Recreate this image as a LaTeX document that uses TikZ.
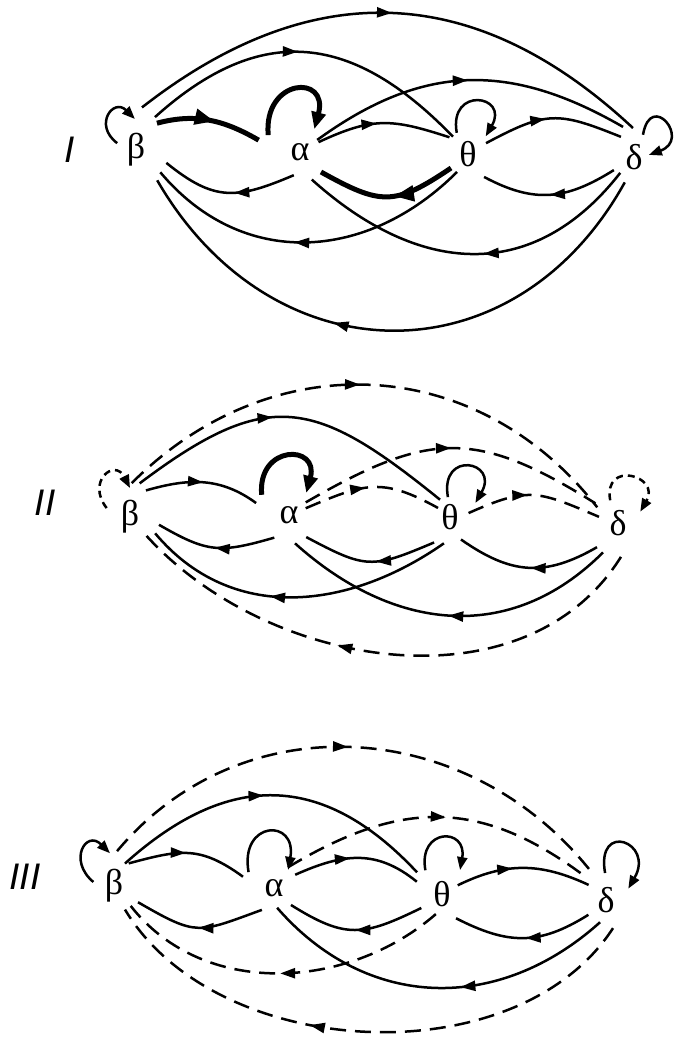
\documentclass[tikz,border=0pt]{standalone}
\usepackage{fontspec}
\setmainfont{Liberation Serif}
\setsansfont{Liberation Sans}
\usetikzlibrary{arrows.meta,decorations.markings}

\begin{document}
\begin{tikzpicture}[
    x=1pt, y=1pt,
    state/.style={inner sep=0pt, font=\fontsize{36}{36}\selectfont},
    tag/.style={inner sep=0pt, font=\sffamily\itshape\fontsize{37}{37}\selectfont},
    link/.style={line width=2.5pt},
    heavy/.style={line width=5pt},
    broken/.style={line width=2.5pt, dash pattern=on 16pt off 9pt},
    mid/.style={postaction={decorate, decoration={markings, mark=at position #1 with {\arrow{Triangle[length=15pt, width=10pt]}}}}},
    midbig/.style={postaction={decorate, decoration={markings, mark=at position #1 with {\arrow{Triangle[length=20pt, width=15pt]}}}}},
    tip/.style={-{Triangle[length=13pt, width=10pt]}},
    bigtip/.style={-{Triangle[length=17pt, width=14pt]}}
]
    \useasboundingbox (0,0) rectangle (681,-1042);

    % panel I
    \node [tag] (p1) at (70,-150) {I};
    \node [state] (b1) at (136,-150) {β};
    \node [state] (a1) at (300,-152) {α};
    \node [state] (t1) at (468,-154) {θ};
    \node [state] (d1) at (634,-157) {δ};

    \draw [link, mid=0.5] ([shift={(82:43)}]b1.center) to[out=38, in=137, looseness=1.12] ([shift={(92:29)}]d1.center);
    \draw [link, mid=0.47] ([shift={(60:38)}]b1.center) to[out=42, in=134, looseness=1.23] ([shift={(131:23)}]t1.center);
    \draw [link, mid=0.5] ([shift={(35:21)}]a1.center) to[out=36, in=150, looseness=1.09] ([shift={(110:32)}]d1.center);
    \draw [heavy, midbig=0.55] ([shift={(52:34)}]b1.center) to[out=15, in=150, looseness=1.0] ([shift={(164:43)}]a1.center);
    \draw [link, mid=0.45] ([shift={(28:21)}]a1.center) to[out=25, in=162, looseness=1.18] ([shift={(138:25)}]t1.center);
    \draw [link, mid=0.45] ([shift={(31:21)}]t1.center) to[out=28, in=158, looseness=1.3] ([shift={(123:24)}]d1.center);
    \draw [heavy, bigtip] ([shift={(152:36)}]a1.center) to[out=95, in=75, looseness=3.15] ([shift={(58:27)}]a1.center);
    \draw [link, tip] ([shift={(160:20)}]b1.center) to[out=143, in=135, looseness=2.6] ([shift={(92:31)}]b1.center);
    \draw [link, tip] ([shift={(118:24)}]t1.center) to[out=100, in=60, looseness=4.2] ([shift={(45:25)}]t1.center);
    \draw [link, tip] ([shift={(68:24)}]d1.center) to[out=80, in=20, looseness=5.5] ([shift={(8:15)}]d1.center);

    \draw [link, mid=0.45] ([shift={(255:24)}]a1.center) to[out=203, in=-39, looseness=1.24] ([shift={(-23:33)}]b1.center);
    \draw [heavy, midbig=0.45] ([shift={(219.5:22)}]t1.center) to[out=214, in=-29, looseness=1.35] ([shift={(-43.6:29)}]a1.center);
    \draw [link, mid=0.5] ([shift={(213:24)}]d1.center) to[out=212, in=-28, looseness=1.12] ([shift={(-55:28)}]t1.center);
    \draw [link, mid=0.54] ([shift={(238.6:21)}]t1.center) to[out=225, in=-50, looseness=1.1] ([shift={(-42.5:33)}]b1.center);
    \draw [link, mid=0.46] ([shift={(229:21)}]d1.center) to[out=232, in=-42, looseness=1.18] ([shift={(-66.8:30)}]a1.center);
    \draw [link, mid=0.6] ([shift={(250:27)}]d1.center) to[out=241, in=-60, looseness=1.25] ([shift={(-55:37)}]b1.center);

    % panel II
    \node [tag] (p2) at (45,-503) {II};
    \node [state] (b2) at (130,-517) {β};
    \node [state] (a2) at (289,-515) {α};
    \node [state] (t2) at (450,-517) {θ};
    \node [state] (d2) at (618,-523) {δ};

    \draw [broken, mid=0.48] ([shift={(87:34)}]b2.center) to[out=45, in=128, looseness=1.08] ([shift={(143:26)}]d2.center);
    \draw [link, mid=0.44] ([shift={(74:35)}]b2.center) to[out=37, in=141, looseness=1.37] ([shift={(120:20)}]t2.center);
    \draw [broken, mid=0.5] ([shift={(37:21)}]a2.center) to[out=30, in=148, looseness=1.25] ([shift={(139:30)}]d2.center);
    \draw [link, mid=0.5] ([shift={(59:31)}]b2.center) to[out=16, in=144, looseness=1.03] ([shift={(160:35)}]a2.center);
    \draw [broken, mid=0.45] ([shift={(22:18)}]a2.center) to[out=23, in=151, looseness=1.24] ([shift={(143:15)}]t2.center);
    \draw [broken, mid=0.45] ([shift={(12:19)}]t2.center) to[out=24, in=157, looseness=1.3] ([shift={(162:20)}]d2.center);
    \draw [heavy, bigtip] ([shift={(143.5:34)}]a2.center) to[out=95, in=75, looseness=2.9] ([shift={(52:28)}]a2.center);
    \draw [broken, dash pattern=on 7pt off 5pt, tip] ([shift={(159:25)}]b2.center) to[out=128, in=117, looseness=2.8] ([shift={(90:29)}]b2.center);
    \draw [link, tip] ([shift={(96:20)}]t2.center) to[out=100, in=60, looseness=4.4] ([shift={(29:29)}]t2.center);
    \draw [broken, dash pattern=on 7pt off 5pt, tip] ([shift={(109:24)}]d2.center) to[out=100, in=60, looseness=3.3] ([shift={(27:25)}]d2.center);

    \draw [link, mid=0.5] ([shift={(237:27)}]a2.center) to[out=196, in=-30, looseness=1.25] ([shift={(-15:30)}]b2.center);
    \draw [link, mid=0.45] ([shift={(238:30)}]t2.center) to[out=203, in=-28, looseness=1.36] ([shift={(-52:28)}]a2.center);
    \draw [link, mid=0.48] ([shift={(229:32)}]d2.center) to[out=210, in=-35, looseness=1.14] ([shift={(-64:25)}]t2.center);
    \draw [link, mid=0.58] ([shift={(257:27)}]t2.center) to[out=215, in=-50, looseness=1.04] ([shift={(-33:30)}]b2.center);
    \draw [link, mid=0.5] ([shift={(243:33)}]d2.center) to[out=225, in=-42, looseness=1.09] ([shift={(-78:29)}]a2.center);
    \draw [broken, mid=0.58] ([shift={(-85:34)}]d2.center) to[out=238, in=-49, looseness=0.98] ([shift={(-49:18)}]b2.center);

    % panel III
    \node [tag] (p3) at (25,-877) {III};
    \node [state] (b3) at (114,-886) {β};
    \node [state] (a3) at (274,-888) {α};
    \node [state] (t3) at (442,-894) {θ};
    \node [state] (d3) at (606,-900) {δ};

    \draw [broken, mid=0.48] ([shift={(85:35)}]b3.center) to[out=50, in=128, looseness=1.06] ([shift={(117:30)}]d3.center);
    \draw [link, mid=0.47] ([shift={(64:25)}]b3.center) to[out=42, in=133, looseness=1.21] ([shift={(139:33)}]t3.center);
    \draw [broken, mid=0.52] ([shift={(56:25)}]a3.center) to[out=31, in=143, looseness=1.13] ([shift={(131:30)}]d3.center);
    \draw [link, mid=0.48] ([shift={(57:27)}]b3.center) to[out=15, in=144, looseness=1.19] ([shift={(160:33)}]a3.center);
    \draw [link, mid=0.44] ([shift={(32:25)}]a3.center) to[out=24, in=141, looseness=1.1] ([shift={(154:28)}]t3.center);
    \draw [link, mid=0.42] ([shift={(29:18)}]t3.center) to[out=26, in=155, looseness=1.04] ([shift={(139:23)}]d3.center);
    \draw [link, tip] ([shift={(169:21)}]b3.center) to[out=140, in=135, looseness=2.6] ([shift={(97:33)}]b3.center);
    \draw [link, tip] ([shift={(148:30)}]a3.center) to[out=100, in=80, looseness=3.4] ([shift={(52:23)}]a3.center);
    \draw [link, tip] ([shift={(125:29)}]t3.center) to[out=100, in=80, looseness=3.2] ([shift={(53:30)}]t3.center);
    \draw [link, tip] ([shift={(92:27)}]d3.center) to[out=100, in=60, looseness=4.9] ([shift={(27:25)}]d3.center);

    \draw [link, mid=0.5] ([shift={(241:25)}]a3.center) to[out=200, in=-30, looseness=1.42] ([shift={(-34:29)}]b3.center);
    \draw [link, mid=0.5] ([shift={(214:25)}]t3.center) to[out=206, in=-32, looseness=1.27] ([shift={(-45:24)}]a3.center);
    \draw [link, mid=0.48] ([shift={(220:23)}]d3.center) to[out=212, in=-27, looseness=1.13] ([shift={(-60:28)}]t3.center);
    \draw [broken, mid=0.5] ([shift={(253:21)}]t3.center) to[out=221, in=-52, looseness=0.98] ([shift={(-50:26)}]b3.center);
    \draw [link, mid=0.43] ([shift={(255:23)}]d3.center) to[out=222, in=-49, looseness=1.08] ([shift={(-81:20)}]a3.center);
    \draw [broken, mid=0.6] ([shift={(-76:29)}]d3.center) to[out=237, in=-59, looseness=0.93] ([shift={(-65:26)}]b3.center);
\end{tikzpicture}
\end{document}
